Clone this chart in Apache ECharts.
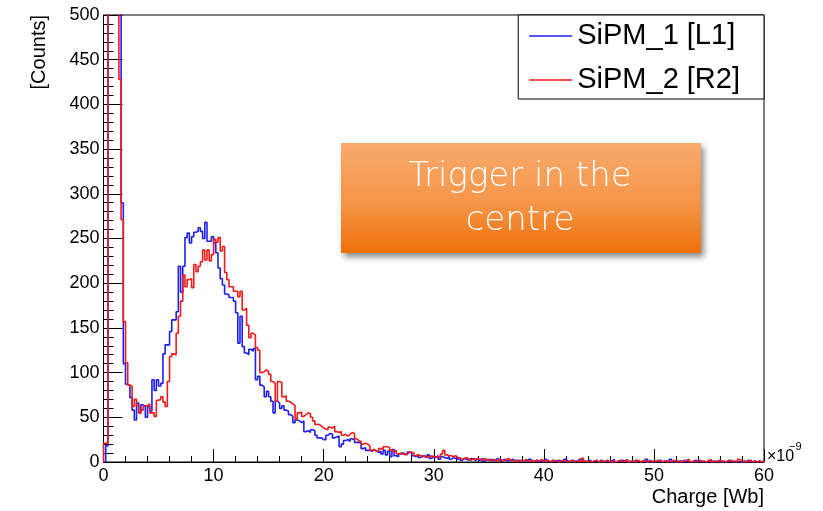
<!DOCTYPE html>
<html>
<head>
<meta charset="utf-8">
<script src="https://cdn.jsdelivr.net/npm/echarts@6/dist/echarts.min.js"></script>
<style>html,body{margin:0;padding:0;background:#fff;}#c{width:823px;height:511px;}</style>
</head>
<body>
<div id="c"></div>
<script>
// Histogram settings (bin width in units of 1e-9 Wb)
var BIN_W = 0.2;
var X_MIN = 0, X_MAX = 60;
var xTicks = [0, 10, 20, 30, 40, 50, 60];
var yTicks = [0, 50, 100, 150, 200, 250, 300, 350, 400, 450, 500];
var seriesNames = ['SiPM_1 [L1]', 'SiPM_2 [R2]'];

// SiPM_1 [L1] counts per bin (300 bins, 0..60)
var sipm1 = [
  0, 18, 2000, 2000, 2000, 2000, 2000, 2000, 290, 110,
  87, 85, 72, 58, 47, 66, 55, 64, 62, 50,
  62, 57, 92, 80, 92, 85, 88, 121, 131, 131,
  146, 159, 159, 168, 219, 190, 219, 251, 256, 245,
  252, 257, 258, 262, 258, 250, 268, 247, 247, 252,
  245, 234, 217, 205, 198, 188, 187, 184, 184, 180,
  167, 133, 163, 129, 122, 120, 126, 124, 127, 92,
  96, 86, 84, 73, 79, 73, 68, 55, 68, 66,
  60, 63, 58, 57, 53, 51, 44, 47, 46, 44,
  46, 34, 35, 33, 36, 35, 30, 27, 27, 25,
  25, 30, 32, 31, 27, 28, 29, 17, 20, 24,
  25, 23, 26, 25, 22, 22, 21, 15, 16, 13,
  13, 12, 14, 12, 11, 12, 9, 13, 8, 12,
  6, 14, 7, 6, 9, 10, 9, 8, 11, 10,
  7, 6, 8, 5, 7, 6, 5, 8, 4, 6,
  5, 7, 3, 6, 5, 4, 6, 3, 5, 4,
  3, 5, 2, 4, 3, 2, 4, 3, 2, 3,
  2, 4, 1, 3, 2, 3, 1, 2, 4, 2,
  1, 3, 2, 1, 2, 3, 1, 2, 1, 2,
  1, 2, 0, 3, 1, 1, 2, 0, 1, 2,
  3, 1, 0, 2, 1, 1, 2, 1, 0, 3,
  1, 0, 2, 1, 1, 0, 3, 1, 0, 1,
  2, 0, 1, 1, 0, 2, 1, 0, 1, 0,
  1, 3, 0, 1, 0, 2, 1, 0, 1, 0,
  0, 2, 1, 0, 1, 0, 3, 0, 1, 0,
  1, 0, 2, 0, 1, 1, 0, 3, 0, 1,
  0, 1, 0, 2, 0, 1, 0, 0, 2, 1,
  0, 1, 0, 0, 2, 0, 1, 0, 1, 0,
  1, 0, 0, 2, 0, 1, 0, 1, 0, 0,
  1, 0, 2, 0, 0, 1, 0, 1, 0, 1
];

// SiPM_2 [R2] counts per bin (300 bins, 0..60)
var sipm2 = [
  21, 21, 2000, 2000, 2000, 2000, 2000, 428, 271, 157,
  111, 86, 85, 62, 70, 63, 55, 58, 63, 63,
  65, 55, 55, 51, 69, 70, 73, 67, 62, 90,
  118, 121, 120, 144, 163, 180, 209, 196, 204, 205,
  195, 221, 213, 219, 224, 237, 226, 237, 225, 232,
  249, 246, 251, 236, 241, 212, 204, 196, 196, 191,
  191, 185, 191, 170, 172, 153, 139, 144, 142, 128,
  125, 100, 101, 103, 101, 98, 90, 88, 68, 90,
  89, 73, 74, 68, 67, 65, 63, 48, 55, 56,
  51, 53, 55, 54, 50, 46, 42, 42, 40, 38,
  37, 36, 39, 38, 40, 34, 33, 34, 30, 31,
  29, 31, 33, 32, 26, 24, 23, 20, 21, 20,
  18, 13, 14, 12, 12, 15, 14, 17, 17, 16,
  13, 12, 13, 9, 10, 9, 8, 9, 11, 11,
  10, 7, 8, 7, 6, 7, 6, 5, 7, 6,
  6, 5, 6, 9, 13, 8, 7, 7, 6, 7,
  5, 4, 3, 4, 5, 3, 2, 4, 3, 4,
  3, 2, 4, 2, 3, 1, 3, 2, 1, 3,
  2, 1, 3, 4, 2, 1, 2, 0, 2, 1,
  1, 3, 1, 2, 0, 1, 2, 1, 3, 1,
  1, 2, 0, 1, 2, 1, 0, 1, 2, 1,
  0, 1, 2, 0, 1, 1, 0, 4, 1, 0,
  1, 0, 1, 2, 0, 1, 0, 1, 2, 0,
  0, 1, 0, 1, 2, 0, 1, 3, 0, 1,
  1, 0, 2, 0, 1, 1, 0, 2, 0, 1,
  0, 2, 1, 0, 1, 0, 1, 0, 2, 0,
  1, 0, 1, 0, 2, 3, 0, 1, 0, 1,
  2, 0, 1, 0, 1, 3, 0, 1, 0, 2,
  0, 1, 0, 1, 2, 0, 1, 0, 3, 1,
  0, 1, 0, 2, 0, 1, 0, 1, 0, 1
];

function toSteps(counts) {
  var pts = [[X_MIN, 0]];
  for (var i = 0; i < counts.length; i++) pts.push([X_MIN + i * BIN_W, counts[i]]);
  pts.push([X_MIN + counts.length * BIN_W, counts[counts.length - 1]]);
  pts.push([X_MIN + counts.length * BIN_W, 0]);
  return pts;
}

var FONT = 'Liberation Sans, Arial, Helvetica, sans-serif';
var chart = echarts.init(document.getElementById('c'), null, {renderer: 'canvas'});
chart.setOption({
  animation: false,
  backgroundColor: '#ffffff',
  grid: {left: 103.5, right: 59, top: 15, bottom: 49, show: true, borderColor: '#000', borderWidth: 1, backgroundColor: '#fff'},
  legend: {
    data: [{name: seriesNames[0], icon: 'rect'}, {name: seriesNames[1], icon: 'rect'}],
    orient: 'vertical', right: 59, top: 15,
    itemWidth: 43, itemHeight: 1.5, itemGap: 14,
    padding: [6, 24, 4, 11],
    backgroundColor: '#fff', borderColor: '#000', borderWidth: 1, borderRadius: 0,
    textStyle: {fontFamily: FONT, fontSize: 29, color: '#000', lineHeight: 30, padding: [0, 0, 0, 0]},
    selectedMode: false
  },
  xAxis: {
    type: 'value', min: X_MIN, max: X_MAX, interval: 10,
    name: 'Charge [Wb]', nameLocation: 'end', nameGap: 0,
    nameTextStyle: {fontFamily: FONT, fontSize: 20, color: '#000', align: 'right', verticalAlign: 'top', padding: [25, 0, 0, 0]},
    axisLine: {show: true, lineStyle: {color: '#000', width: 1}},
    axisTick: {show: true, inside: true, length: 13, lineStyle: {color: '#000'}},
    minorTick: {show: true, splitNumber: 5, length: 6, lineStyle: {color: '#000'}},
    splitLine: {show: false},
    axisLabel: {fontFamily: FONT, fontSize: 18, color: '#000', margin: 5,
      formatter: function (v) { return xTicks.indexOf(v) >= 0 ? String(v) : ''; }}
  },
  yAxis: {
    type: 'value', min: 0, max: 500, interval: 50,
    name: '[Counts]', nameLocation: 'end', nameRotate: 90, nameGap: 0,
    nameTextStyle: {fontFamily: FONT, fontSize: 20, color: '#000', align: 'right', verticalAlign: 'bottom', padding: [0, 0, 54, 0]},
    axisLine: {show: true, lineStyle: {color: '#000', width: 1}},
    axisTick: {show: true, inside: true, length: 19, lineStyle: {color: '#000'}},
    minorTick: {show: true, splitNumber: 5, length: 10, lineStyle: {color: '#000'}},
    splitLine: {show: false},
    axisLabel: {fontFamily: FONT, fontSize: 18, color: '#000', margin: 4,
      formatter: function (v) { return yTicks.indexOf(v) >= 0 ? String(v) : ''; }}
  },
  series: [
    {name: seriesNames[0], type: 'line', step: 'end', showSymbol: false, symbol: 'none', clip: true,
     color: '#2020ee', lineStyle: {color: '#2020ee', width: 1.6}, data: toSteps(sipm1), z: 3},
    {name: seriesNames[1], type: 'line', step: 'end', showSymbol: false, symbol: 'none', clip: true,
     color: '#ee1c1c', lineStyle: {color: '#ee1c1c', width: 1.6}, data: toSteps(sipm2), z: 4}
  ],
  graphic: [
    {type: 'text', left: 767, top: 449, style: {text: '×10', fontFamily: FONT, fontSize: 16, fill: '#000'}, z: 10},
    {type: 'text', left: 789, top: 441, style: {text: '−9', fontFamily: FONT, fontSize: 11, fill: '#000'}, z: 10},
    {type: 'rect', shape: {x: 341, y: 143, width: 360, height: 110}, z: 20,
     style: {
       fill: new echarts.graphic.LinearGradient(0, 0, 0, 1, [
         {offset: 0, color: '#f8aa6e'}, {offset: 0.55, color: '#f59548'}, {offset: 1, color: '#ef7008'}]),
       shadowBlur: 6, shadowColor: 'rgba(0,0,0,0.45)', shadowOffsetX: 3, shadowOffsetY: 4
     }},
    {type: 'text', x: 520, y: 177, z: 21,
     style: {text: 'Trigger in the', fontFamily: 'DejaVu Sans', fontWeight: 200, fontSize: 34, fill: '#fff', align: 'center', verticalAlign: 'middle'}},
    {type: 'text', x: 520, y: 221, z: 21,
     style: {text: 'centre', fontFamily: 'DejaVu Sans', fontWeight: 200, fontSize: 34, fill: '#fff', align: 'center', verticalAlign: 'middle'}}
  ]
});
</script>
</body>
</html>
